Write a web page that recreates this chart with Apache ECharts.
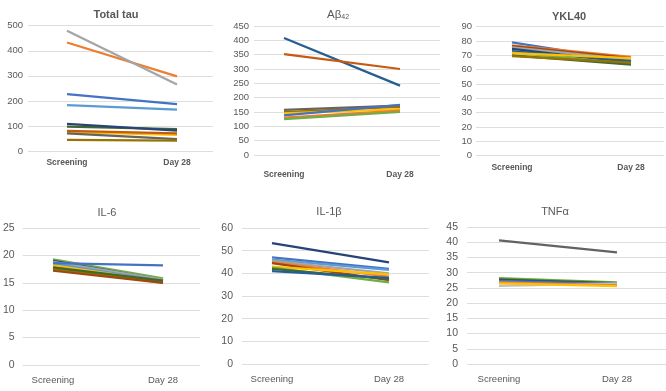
<!DOCTYPE html>
<html><head><meta charset="utf-8">
<script src="https://cdn.jsdelivr.net/npm/echarts@6/dist/echarts.min.js"></script>
<style>html,body{margin:0;padding:0;background:#fff}#c{width:666px;height:391px}</style>
</head><body><div id="c"></div>
<script>
const categories = ['Screening', 'Day 28'];

const tauScreening = [227, 433, 480, 75, 183, 97, 108, 80, 70, 44];
const tauDay28     = [187, 298, 265, 64, 165, 87, 81, 70, 47, 41];

const abScreening = [408, 352, 157, 150, 145, 138, 130, 125];
const abDay28     = [242, 300, 172, 168, 160, 175, 155, 150];

const ykScreening = [79, 77, 76.5, 75.5, 74.5, 73, 72, 71.5, 70, 69.5];
const ykDay28     = [66, 69, 68, 67, 65, 66, 64, 68, 63.5, 65];

const il6Screening = [19.3, 19.0, 18.8, 18.5, 18.2, 17.8, 17.5, 17.2, 17.8, 18.6];
const il6Day28     = [15.8, 15.5, 15.6, 15.3, 15.2, 15.0, 15.1, 15.0, 15.4, 18.2];

const il1bScreening = [53.3, 47, 46, 45.5, 45, 44.5, 43, 42.5, 42, 41];
const il1bDay28     = [44.8, 42, 41.5, 40, 38.5, 37, 39.5, 36, 37.5, 38];

const tnfScreening = [40.6, 28.2, 27.8, 27.5, 27.3, 25.7, 26.8, 26.5];
const tnfDay28     = [36.7, 26.8, 26.6, 26.3, 26.2, 26.5, 25.8, 25.6];

const panels = [
  {title: 'Total tau', bold: true, s: tauScreening, d: tauDay28, max: 500, interval: 100,
   colors: ['#4472C4','#ED7D31','#A5A5A5','#FFC000','#5B9BD5','#43682B','#264478','#C55A11','#636363','#997300'],
   gl: 28, gr: 213, top: 25.7, bot: 151, sx: 67, ex: 177, tx: 111, ty: 4, cm: 7, ym: 5, cb: true, yf: 9.5},
  {title: '{a|Aβ}{s|42}', bold: false, s: abScreening, d: abDay28, max: 450, interval: 50,
   colors: ['#255E91','#C55A11','#636363','#997300','#FFC000','#4472C4','#ED7D31','#70AD47'],
   gl: 254, gr: 440, top: 26, bot: 155, sx: 284, ex: 400, tx: 333, ty: 3, cm: 15, ym: 5, cb: true, yf: 9.5},
  {title: 'YKL40', bold: true, s: ykScreening, d: ykDay28, max: 90, interval: 10,
   colors: ['#4472C4','#ED7D31','#9E480E','#A5A5A5','#264478','#255E91','#70AD47','#FFC000','#43682B','#997300'],
   gl: 476, gr: 664, top: 26.7, bot: 155.7, sx: 512, ex: 631, tx: 564, ty: 6, cm: 7, ym: 4, cb: true, yf: 9.5},
  {title: 'IL-6', bold: false, s: il6Screening, d: il6Day28, max: 25, interval: 5,
   colors: ['#70AD47','#264478','#A5A5A5','#5B9BD5','#FFC000','#ED7D31','#997300','#9E480E','#43682B','#4472C4'],
   gl: 22, gr: 200, top: 228, bot: 365, sx: 53, ex: 163, tx: 102, ty: 202, cm: 10, ym: 8, cb: false, yf: 10.5},
  {title: 'IL-1β', bold: false, s: il1bScreening, d: il1bDay28, max: 60, interval: 10,
   colors: ['#264478','#4472C4','#5B9BD5','#A5A5A5','#ED7D31','#9E480E','#FFC000','#70AD47','#43682B','#255E91'],
   gl: 242, gr: 429, top: 228, bot: 364, sx: 272, ex: 389, tx: 324, ty: 201, cm: 10, ym: 9, cb: false, yf: 10.5},
  {title: 'TNFα', bold: false, s: tnfScreening, d: tnfDay28, max: 45, interval: 5,
   colors: ['#636363','#70AD47','#43682B','#264478','#4472C4','#BFBFBF','#ED7D31','#FFC000'],
   gl: 467, gr: 666, top: 227, bot: 364, sx: 499, ex: 617, tx: 550, ty: 201, cm: 10, ym: 9, cb: false, yf: 10.5}
];

const W = 666, H = 391, txt = '#595959';
const option = {animation: false, backgroundColor: '#fff', title: [], grid: [], xAxis: [], yAxis: [], series: []};

panels.forEach((p, i) => {
  option.title.push({
    text: p.title, left: p.tx, top: p.ty, textAlign: 'center',
    textStyle: {fontFamily: 'Liberation Sans', fontSize: 11, fontWeight: p.bold ? 'bold' : 'normal', color: txt,
      rich: {a: {fontFamily: 'Liberation Sans', fontSize: 11.5, color: txt}, s: {fontFamily: 'Liberation Sans', fontSize: 7, color: txt, verticalAlign: 'bottom', padding: [6, 0, 0, 0]}}}
  });
  const g0 = option.grid.length;
  option.grid.push({left: p.gl, right: W - p.gr, top: p.top, bottom: H - p.bot, containLabel: false});
  option.grid.push({left: p.sx, right: W - p.ex, top: p.top, bottom: H - p.bot, containLabel: false});
  option.xAxis.push({type: 'category', gridIndex: g0, data: categories, show: false});
  option.yAxis.push({type: 'value', gridIndex: g0, min: 0, max: p.max, interval: p.interval,
    axisLine: {show: false}, axisTick: {show: false},
    splitLine: {lineStyle: {color: '#dedede', width: 1}},
    axisLabel: {color: txt, fontFamily: 'Liberation Sans', fontSize: p.yf, margin: p.ym}});
  option.xAxis.push({type: 'category', gridIndex: g0 + 1, data: categories, boundaryGap: false,
    axisLine: {show: false}, axisTick: {show: false}, splitLine: {show: false},
    axisLabel: {color: txt, fontFamily: 'Liberation Sans', fontSize: p.cb ? 8.5 : 9.5, fontWeight: p.cb ? 'bold' : 'normal', margin: p.cm, interval: 0}});
  option.yAxis.push({type: 'value', gridIndex: g0 + 1, min: 0, max: p.max, interval: p.interval, show: false, splitLine: {show: false}});
  p.s.forEach((v, k) => {
    option.series.push({type: 'line', xAxisIndex: g0 + 1, yAxisIndex: g0 + 1,
      data: [v, p.d[k]], symbol: 'none', silent: true,
      lineStyle: {color: p.colors[k], width: 2.25}, itemStyle: {color: p.colors[k]}});
  });
});

const chart = echarts.init(document.getElementById('c'), null, {renderer: 'canvas'});
chart.setOption(option);
</script>
</body></html>
